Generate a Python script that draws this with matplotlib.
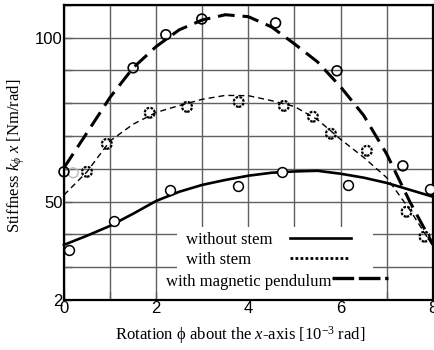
import numpy as np
import matplotlib
matplotlib.use('Agg')
import matplotlib.pyplot as plt
from matplotlib.patches import Rectangle
from matplotlib.lines import Line2D

plt.rcParams['font.family'] = ['Liberation Serif', 'DejaVu Serif']
plt.rcParams['mathtext.fontset'] = 'custom'
plt.rcParams['mathtext.rm'] = 'Liberation Serif'
plt.rcParams['mathtext.it'] = 'Liberation Serif:italic'

# --- data ---
x_curve = [0, 0.5, 1, 1.5, 2, 2.5, 3, 3.5, 4, 4.5, 5, 5.5, 6, 6.5, 7, 7.5, 8]
y_sans_tige = [36.8, 39.6, 42.6, 46.3, 50.2, 53.0, 55.1, 56.6, 57.9, 58.8,
               59.2, 59.4, 58.5, 57.3, 55.7, 53.6, 51.5]
y_tige = [52.0, 59.1, 68.5, 73.6, 77.2, 79.3, 81.2, 82.4, 82.3, 80.8,
          79.0, 75.0, 69.0, 63.5, 57.3, 47.5, 36.5]
y_pendule = [60.3, 71.0, 81.8, 90.8, 97.3, 102.4, 105.4, 107.0, 106.4, 103.3,
             98.1, 92.6, 85.0, 76.3, 64.5, 50.0, 37.0]

# points mesures
x_pts_sans = [0.11, 1.08, 2.30, 3.77, 4.72, 6.15, 7.93]
y_pts_sans = [35.3, 44.1, 53.6, 54.8, 59.1, 55.1, 53.9]
x_pts_tige = [0.5, 0.93, 1.86, 2.67, 3.79, 4.77, 5.40, 5.79, 6.57, 7.43, 7.82]
y_pts_tige = [59.1, 67.6, 77.1, 78.9, 80.4, 79.2, 75.9, 70.7, 65.5, 46.9, 39.3]
x_pts_pend = [0.0, 1.50, 2.21, 2.99, 4.59, 5.92, 7.35]
y_pts_pend = [59.1, 90.8, 100.9, 105.7, 104.5, 89.9, 60.9]
x_pts_gris = [0.2]
y_pts_gris = [58.8]

xticks = list(range(0, 9))
xtick_labels = ['0', '', '2', '', '4', '', '6', '', '8']
yticks = list(range(20, 111, 10))
ytick_labels = ['2', '', '', '50', '', '', '', '', '100', '']

legend_labels = ['without stem', 'with stem', 'with magnetic pendulum']

# --- figure ---
fig = plt.figure(figsize=(4.35, 3.5), dpi=100)
ax = fig.add_axes([0.147, 0.143, 0.848, 0.843])

ax.plot(x_curve, y_sans_tige, color='black', lw=1.9, zorder=3, clip_on=False)
ax.plot(x_curve, y_tige, color='black', lw=1.0, dashes=(4.3, 2.9), zorder=3)
ax.plot(x_curve, y_pendule, color='black', lw=2.2, dashes=(5.5, 2.6), zorder=3)

ax.scatter(x_pts_sans, y_pts_sans, s=50, facecolors='white', edgecolors='black',
           linewidths=1.1, zorder=4, clip_on=False)
ax.scatter(x_pts_tige, y_pts_tige, s=50, facecolors='none', edgecolors='black',
           linewidths=1.6, linestyles=(0, (1.2, 0.6)), zorder=4, clip_on=False)
ax.scatter(x_pts_pend, y_pts_pend, s=50, facecolors='none', edgecolors='black',
           linewidths=1.2, zorder=4, clip_on=False)
ax.scatter(x_pts_gris, y_pts_gris, s=50, facecolors='none', edgecolors='#bbbbbb',
           linewidths=1.0, zorder=2, clip_on=False)

ax.set_xlim(0, 8)
ax.set_ylim(20, 110)
ax.set_xticks(xticks)
ax.set_xticklabels(xtick_labels, fontfamily='Liberation Sans', fontsize=12)
ax.set_yticks(yticks)
ax.set_yticklabels(ytick_labels, fontfamily='Liberation Sans', fontsize=12)
ax.tick_params(direction='in', length=6, width=1.0, pad=1, color='#606060')
ax.grid(True, color='#606060', lw=1.0, zorder=0)
ax.set_axisbelow(True)
for sp in ax.spines.values():
    sp.set_linewidth(1.6)

ax.set_xlabel(r'Rotation ϕ about the $x$-axis [10$^{-3}$ rad]', fontsize=12)
ax.set_ylabel(r'Stiffness $k_{\phi}\ x$ [Nm/rad]', fontsize=12)
ax.xaxis.set_label_coords(0.477, -0.082)
ax.yaxis.set_label_coords(-0.10, 0.488)

# legende faite a la main (texte a gauche, trait a droite)
ax.add_patch(Rectangle((0.306, 0.0), 0.531, 0.247, transform=ax.transAxes,
                       facecolor='white', edgecolor='none', zorder=1.5))
ax.text(0.331, 0.203, legend_labels[0], transform=ax.transAxes, fontsize=12,
        ha='left', va='center', zorder=5)
ax.text(0.331, 0.136, legend_labels[1], transform=ax.transAxes, fontsize=12,
        ha='left', va='center', zorder=5)
ax.text(0.726, 0.061, legend_labels[2], transform=ax.transAxes, fontsize=12,
        ha='right', va='center', zorder=5)
ax.add_line(Line2D([0.612, 0.778], [0.210, 0.210], transform=ax.transAxes,
                   color='black', lw=1.9, zorder=5))
ax.add_line(Line2D([0.612, 0.771], [0.142, 0.142], transform=ax.transAxes,
                   color='black', lw=2.0, linestyle=(0, (1.0, 0.8)), zorder=5))
ax.add_line(Line2D([0.726, 0.878], [0.075, 0.075], transform=ax.transAxes,
                   color='black', lw=2.4, dashes=(6.5, 1.4), zorder=5))

fig.savefig('out.png', dpi=100)
